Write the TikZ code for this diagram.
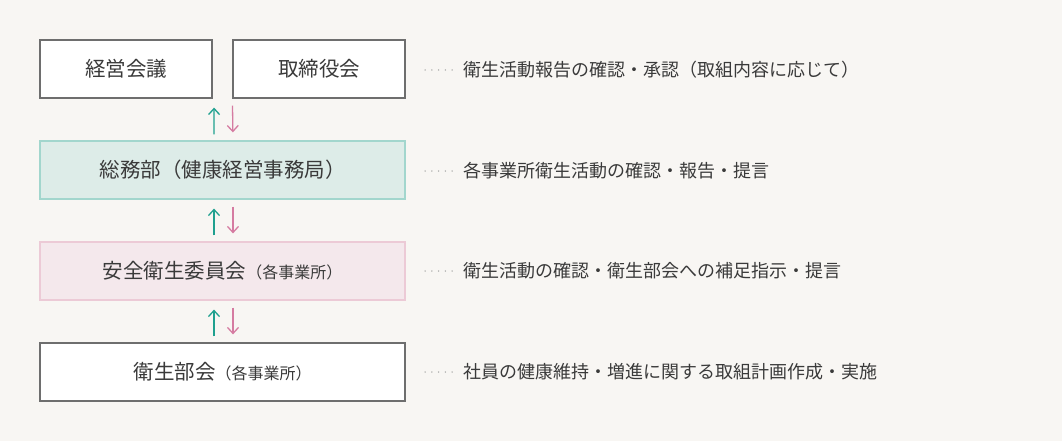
\documentclass[tikz,border=0pt]{standalone}
\RequirePackage{fontspec}
\RequirePackage{tikz}
\usetikzlibrary{arrows.meta}
\setmainfont{Noto Sans CJK JP}

\definecolor{bgcol}{HTML}{F8F6F3}
\definecolor{framegray}{HTML}{6E6E6E}
\definecolor{textgray}{HTML}{3A3A3A}
\definecolor{dotgray}{HTML}{A0A0A0}
\definecolor{tealline}{HTML}{1FA08F}
\definecolor{tealframe}{HTML}{A2D6CD}
\definecolor{tealfill}{HTML}{DDECE8}
\definecolor{pinkline}{HTML}{D57BA1}
\definecolor{pinkframe}{HTML}{ECCAD6}
\definecolor{pinkfill}{HTML}{F4E8EC}

\newcommand\subtext[1]{{\fontsize{16}{16}\selectfont #1}}

\begin{document}
\begin{tikzpicture}[x=1pt,y=-1pt,
    orgbox/.style={draw=framegray,fill=white,line width=1.2pt,
        minimum height=58pt,inner sep=0pt,text=textgray,
        font=\fontsize{20.5}{20.5}\selectfont},
    halfbox/.style={orgbox,minimum width=172pt},
    widebox/.style={orgbox,minimum width=365pt},
    tealbox/.style={widebox,draw=tealframe,fill=tealfill},
    pinkbox/.style={widebox,draw=pinkframe,fill=pinkfill},
    note/.style={anchor=west,inner sep=0pt,text=textgray,
        font=\fontsize{18}{18}\selectfont},
    leader/.style={draw=dotgray,line width=1.5pt,line cap=round,
        dash pattern=on 0pt off 6.75pt},
    uparr/.style={draw=tealline,line width=1.3pt,
        -{Straight Barb[length=6pt,width=11pt,line width=1.3pt]}},
    downarr/.style={draw=pinkline,line width=1.3pt,
        -{Straight Barb[length=6pt,width=11pt,line width=1.3pt]}}]
                \fill[bgcol] (0,0) rectangle (1062,441);
                \useasboundingbox (0,0) rectangle (1062,441);

                \node[halfbox] (keiei) at (126,69) {経営会議};
                \node[halfbox] (torishimari) at (319,69) {取締役会};
                \node[tealbox] (somu) at (222.5,170) {総務部（健康経営事務局）};
                \node[pinkbox] (anzen) at (222.5,271)
                    {安全衛生委員会\subtext{（各事業所）}};
                \node[widebox] (bukai) at (222.5,372)
                    {衛生部会\subtext{（各事業所）}};

                \node[note] (note1) at (463,70)
                    {衛生活動報告の確認・承認（取組内容に応じて）};
                \node[note] (note2) at (463,171)
                    {各事業所衛生活動の確認・報告・提言};
                \node[note] (note3) at (463,271)
                    {衛生活動の確認・衛生部会への補足指示・提言};
                \node[note] (note4) at (463,372)
                    {社員の健康維持・増進に関する取組計画作成・実施};

                \draw[leader] ([xshift=-38pt]note1.west) -- ([xshift=-9pt]note1.west);
                \draw[leader] ([xshift=-38pt]note2.west) -- ([xshift=-9pt]note2.west);
                \draw[leader] ([xshift=-38pt]note3.west) -- ([xshift=-9pt]note3.west);
                \draw[leader] ([xshift=-38pt]note4.west) -- ([xshift=-9pt]note4.west);

                \draw[uparr,shorten <=6pt,shorten >=9pt]
                    ([xshift=-8.5pt]somu.north) -- ([xshift=1.5pt]keiei.south east);
                \draw[downarr,shorten <=7pt,shorten >=8pt]
                    (torishimari.south west) -- ([xshift=10.5pt]somu.north);

                \draw[uparr,shorten <=6pt,shorten >=9pt]
                    ([xshift=-8.5pt]anzen.north) -- ([xshift=-8.5pt]somu.south);
                \draw[downarr,shorten <=7pt,shorten >=8pt]
                    ([xshift=10.5pt]somu.south) -- ([xshift=10.5pt]anzen.north);

                \draw[uparr,shorten <=6pt,shorten >=9pt]
                    ([xshift=-8.5pt]bukai.north) -- ([xshift=-8.5pt]anzen.south);
                \draw[downarr,shorten <=7pt,shorten >=8pt]
                    ([xshift=10.5pt]anzen.south) -- ([xshift=10.5pt]bukai.north);
            \end{tikzpicture}
\end{document}
